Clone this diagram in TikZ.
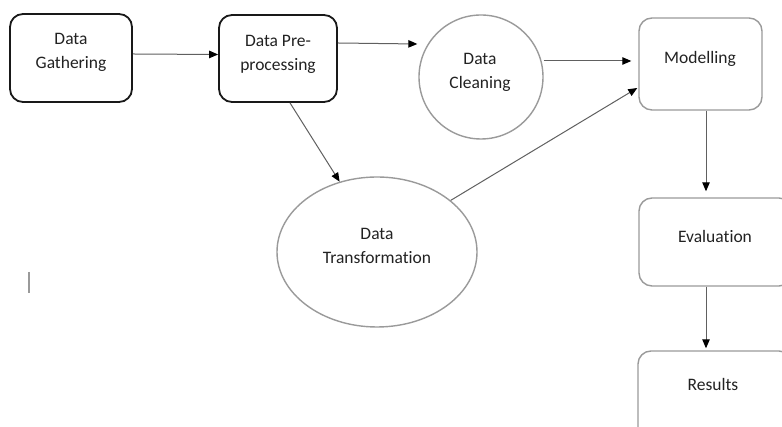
\documentclass[tikz,border=0pt]{standalone}
\usepackage{fontspec}
\setmainfont{Carlito}[Ligatures=NoCommon]
\usetikzlibrary{arrows.meta,shapes.geometric}
\definecolor{edgegray}{HTML}{9A9A9A}
\definecolor{linkgray}{HTML}{606060}
\definecolor{inkgray}{HTML}{222222}
\tikzset{
  darkbox/.style={draw=black!90, line width=1.8pt, rounded corners=13pt, inner sep=0pt},
  lightbox/.style={draw=edgegray, line width=1.4pt, rounded corners=13pt, inner sep=0pt},
  lightcircle/.style={draw=edgegray, line width=1.4pt, circle, inner sep=0pt},
  lightoval/.style={draw=edgegray, line width=1.4pt, ellipse, inner sep=0pt},
  label text/.style={font=\fontsize{17.5pt}{24pt}\selectfont, text=inkgray, align=center, inner sep=0pt},
  link/.style={draw=linkgray, line width=1pt, -{Triangle[length=9pt,width=7.5pt,fill=black,color=black]}},
}
\begin{document}
\begin{tikzpicture}[x=1pt,y=1pt]
  \clip (0,0) rectangle (782,427);
  \useasboundingbox (0,0) rectangle (782,427);
  \fill[white] (0,0) rectangle (782,427);

  % process boxes and bubbles
  \node[darkbox, minimum width=122pt, minimum height=88pt] (gather) at (71,369) {};
  \node[darkbox, minimum width=118pt, minimum height=87pt] (prep) at (278,368.5) {};
  \node[lightcircle, minimum size=124pt] (clean) at (481,350) {};
  \node[lightbox, minimum width=123pt, minimum height=92pt] (model) at (700.5,363) {};
  \node[lightoval, minimum width=200pt, minimum height=150pt] (trans) at (377,175) {};
  \node[lightbox, minimum width=153pt, minimum height=88pt] (eval) at (715.5,185) {};
  \node[lightbox, minimum width=154pt, minimum height=89pt] (result) at (715,31.5) {};

  % captions
  \node[label text] (gatherT) at (71,375) {Data\\Gathering};
  \node[label text] (prepT) at (278,373) {Data Pre-\\processing};
  \node[label text] (cleanT) at (480,355) {Data\\Cleaning};
  \node[label text] (modelT) at (700,368) {Modelling};
  \node[label text] (transT) at (377,181) {Data\\Transformation};
  \node[label text] (evalT) at (715,191) {Evaluation};
  \node[label text] (resultT) at (713,43) {Results};

  % connectors
  \draw[link] ([yshift=4pt]gather.east) -- ([yshift=4pt]prep.west);
  \draw[link] ([yshift=15.5pt]prep.east) -- ([shift={(-1pt,33pt)}]clean.west);
  \draw[link] ([yshift=16pt]clean.east) -- ([shift={(-7pt,3pt)}]model.west);
  \draw[link] (trans.35) -- ([shift={(-1pt,-24pt)}]model.west);
  \draw[link] ([xshift=12pt]prep.south) -- (trans.118);
  \draw[link, shorten >=6pt] ([xshift=5.5pt]model.south) -- ([xshift=5.5pt]model.south |- eval.north);
  \draw[link, shorten >=2pt] ([xshift=-9.5pt]eval.south) -- ([xshift=-9.5pt]eval.south |- result.north);

  % stray text cursor mark
  \draw[edgegray, line width=1.4pt] (29,155) -- (29,134);
\end{tikzpicture}
\end{document}
